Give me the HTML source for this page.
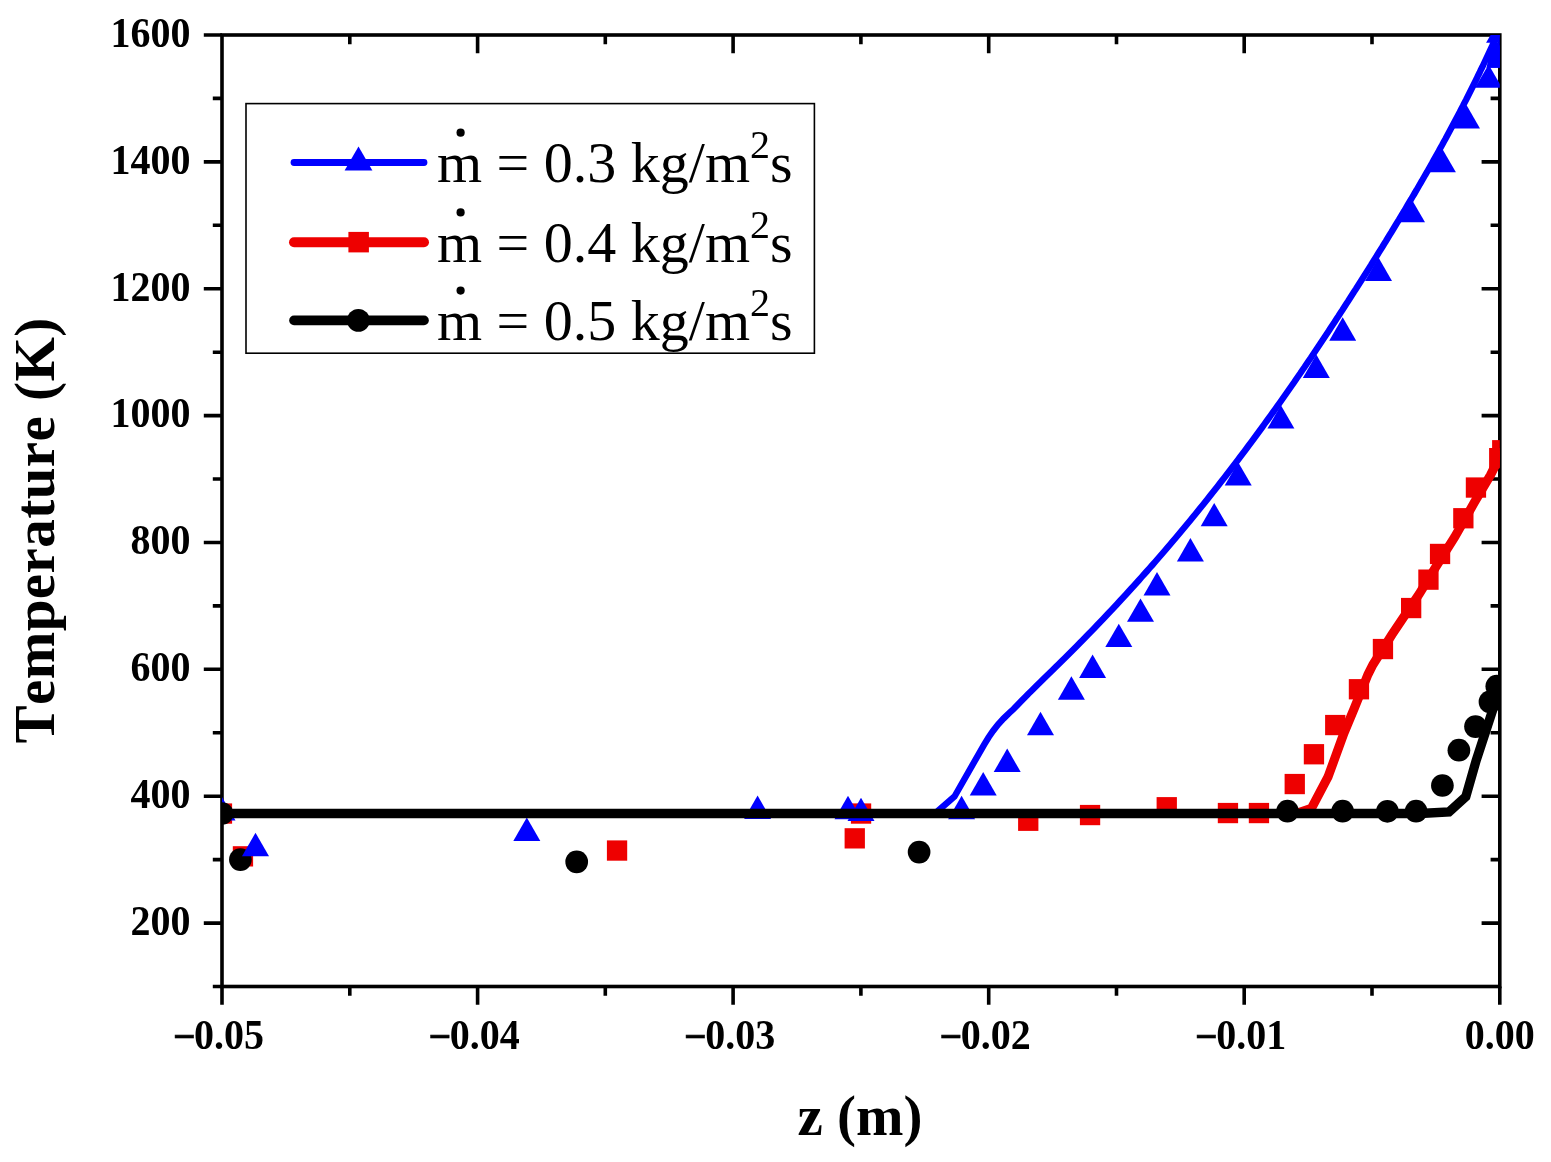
<!DOCTYPE html>
<html><head><meta charset="utf-8"><style>
html,body{margin:0;padding:0;background:#fff;}
svg{display:block;}
.tl{font-family:"Liberation Serif",serif;font-weight:bold;font-size:40px;}
.lg{font-family:"Liberation Serif",serif;font-size:58px;}
.ti{font-family:"Liberation Serif",serif;font-weight:bold;font-size:57px;}
</style></head><body>
<svg width="1551" height="1162" viewBox="0 0 1551 1162">
<rect width="1551" height="1162" fill="#fff"/>
<defs><clipPath id="pc"><rect x="222.0" y="35.0" width="1277.8" height="951.5"/></clipPath></defs>
<rect x="222.0" y="35.0" width="1277.8" height="951.5" fill="none" stroke="#000" stroke-width="3.6"/><path d="M212.8 986.5H222.0 M203.8 923.1H222.0 M1499.8 923.1H1481.6 M212.8 859.6H222.0 M1499.8 859.6H1490.6 M203.8 796.2H222.0 M1499.8 796.2H1481.6 M212.8 732.8H222.0 M1499.8 732.8H1490.6 M203.8 669.3H222.0 M1499.8 669.3H1481.6 M212.8 605.9H222.0 M1499.8 605.9H1490.6 M203.8 542.5H222.0 M1499.8 542.5H1481.6 M212.8 479.0H222.0 M1499.8 479.0H1490.6 M203.8 415.6H222.0 M1499.8 415.6H1481.6 M212.8 352.2H222.0 M1499.8 352.2H1490.6 M203.8 288.7H222.0 M1499.8 288.7H1481.6 M212.8 225.3H222.0 M1499.8 225.3H1490.6 M203.8 161.9H222.0 M1499.8 161.9H1481.6 M212.8 98.4H222.0 M1499.8 98.4H1490.6 M203.8 35.0H222.0 M222.0 986.5V1004.7 M349.8 986.5V995.7 M349.8 35.0V44.2 M477.6 986.5V1004.7 M477.6 35.0V53.2 M605.3 986.5V995.7 M605.3 35.0V44.2 M733.1 986.5V1004.7 M733.1 35.0V53.2 M860.9 986.5V995.7 M860.9 35.0V44.2 M988.7 986.5V1004.7 M988.7 35.0V53.2 M1116.5 986.5V995.7 M1116.5 35.0V44.2 M1244.2 986.5V1004.7 M1244.2 35.0V53.2 M1372.0 986.5V995.7 M1372.0 35.0V44.2 M1499.8 986.5V1004.7" stroke="#000" stroke-width="3.6" fill="none"/>
<g class="tl"><text transform="translate(190.5 934.9) scale(1 1.07)" text-anchor="end">200</text><text transform="translate(190.5 808.0) scale(1 1.07)" text-anchor="end">400</text><text transform="translate(190.5 681.1) scale(1 1.07)" text-anchor="end">600</text><text transform="translate(190.5 554.3) scale(1 1.07)" text-anchor="end">800</text><text transform="translate(190.5 427.4) scale(1 1.07)" text-anchor="end">1000</text><text transform="translate(190.5 300.5) scale(1 1.07)" text-anchor="end">1200</text><text transform="translate(190.5 173.7) scale(1 1.07)" text-anchor="end">1400</text><text transform="translate(190.5 46.8) scale(1 1.07)" text-anchor="end">1600</text><text transform="translate(218.5 1049) scale(1 1.07)" text-anchor="middle"><tspan dy="1.5" style="stroke:#000;stroke-width:0.5">−</tspan><tspan dy="-1.5" dx="-1.6">0.05</tspan></text><text transform="translate(474.1 1049) scale(1 1.07)" text-anchor="middle"><tspan dy="1.5" style="stroke:#000;stroke-width:0.5">−</tspan><tspan dy="-1.5" dx="-1.6">0.04</tspan></text><text transform="translate(729.6 1049) scale(1 1.07)" text-anchor="middle"><tspan dy="1.5" style="stroke:#000;stroke-width:0.5">−</tspan><tspan dy="-1.5" dx="-1.6">0.03</tspan></text><text transform="translate(985.2 1049) scale(1 1.07)" text-anchor="middle"><tspan dy="1.5" style="stroke:#000;stroke-width:0.5">−</tspan><tspan dy="-1.5" dx="-1.6">0.02</tspan></text><text transform="translate(1240.7 1049) scale(1 1.07)" text-anchor="middle"><tspan dy="1.5" style="stroke:#000;stroke-width:0.5">−</tspan><tspan dy="-1.5" dx="-1.6">0.01</tspan></text><text transform="translate(1499.8 1049) scale(1 1.07)" text-anchor="middle">0.00</text></g>
<g clip-path="url(#pc)">
<path d="M1270.0 813.5 L1296.0 813.5 L1311.4 808.4 L1328.0 777.0 L1336.0 755.0 L1344.0 733.0 L1354.0 709.0 L1368.0 674.4 L1373.0 664.5 L1392.0 634.5 L1419.0 594.3 L1436.0 566.6 L1454.6 537.2 L1474.3 502.6 L1490.5 475.1 L1502.0 452.0" fill="none" stroke="#ee0000" stroke-width="9.1" stroke-linejoin="miter" stroke-miterlimit="4" stroke-linecap="butt"/>
<rect x="232.8" y="846.2" width="20.3" height="20.3" fill="#ee0000"/>
<rect x="606.9" y="840.4" width="20.3" height="20.3" fill="#ee0000"/>
<rect x="844.6" y="828.2" width="20.3" height="20.3" fill="#ee0000"/>
<rect x="850.9" y="803.4" width="20.3" height="20.3" fill="#ee0000"/>
<rect x="1018.1" y="810.6" width="20.3" height="20.3" fill="#ee0000"/>
<rect x="1079.9" y="804.9" width="20.3" height="20.3" fill="#ee0000"/>
<rect x="1156.6" y="797.1" width="20.3" height="20.3" fill="#ee0000"/>
<rect x="1217.8" y="802.9" width="20.3" height="20.3" fill="#ee0000"/>
<rect x="1248.8" y="802.9" width="20.3" height="20.3" fill="#ee0000"/>
<rect x="1284.6" y="773.9" width="20.3" height="20.3" fill="#ee0000"/>
<rect x="1303.8" y="744.1" width="20.3" height="20.3" fill="#ee0000"/>
<rect x="1325.1" y="714.9" width="20.3" height="20.3" fill="#ee0000"/>
<rect x="1348.8" y="679.1" width="20.3" height="20.3" fill="#ee0000"/>
<rect x="1372.8" y="638.9" width="20.3" height="20.3" fill="#ee0000"/>
<rect x="1401.0" y="597.9" width="20.3" height="20.3" fill="#ee0000"/>
<rect x="1418.3" y="569.5" width="20.3" height="20.3" fill="#ee0000"/>
<rect x="1429.9" y="543.8" width="20.3" height="20.3" fill="#ee0000"/>
<rect x="1453.2" y="508.1" width="20.3" height="20.3" fill="#ee0000"/>
<rect x="1465.8" y="477.4" width="20.3" height="20.3" fill="#ee0000"/>
<rect x="1489.1" y="448.0" width="20.3" height="20.3" fill="#ee0000"/>
<rect x="1492.1" y="440.1" width="20.3" height="20.3" fill="#ee0000"/>
<rect x="211.8" y="803.4" width="20.3" height="20.3" fill="#ee0000"/>
<circle cx="240.4" cy="859.6" r="11.35" fill="#000000"/>
<circle cx="576.7" cy="861.9" r="11.35" fill="#000000"/>
<circle cx="919.1" cy="852.1" r="11.35" fill="#000000"/>
<circle cx="1287.5" cy="811.2" r="11.35" fill="#000000"/>
<circle cx="1342.6" cy="811.2" r="11.35" fill="#000000"/>
<circle cx="1387.4" cy="811.3" r="11.35" fill="#000000"/>
<circle cx="1416.1" cy="811.2" r="11.35" fill="#000000"/>
<circle cx="1442.4" cy="785.5" r="11.35" fill="#000000"/>
<circle cx="1458.9" cy="750.2" r="11.35" fill="#000000"/>
<circle cx="1475.5" cy="726.6" r="11.35" fill="#000000"/>
<circle cx="1490.0" cy="701.9" r="11.35" fill="#000000"/>
<circle cx="1496.8" cy="686.2" r="11.35" fill="#000000"/>
<path d="M900.0 813.5 L935.0 813.5 L954.5 796.5 L984.0 744.8 L988.5 737.5 L993.0 731.0 L998.0 724.5 L1003.5 718.6 L1009.5 712.8 L1013.6 709.0 L1016.5 706.0 L1019.4 703.0 L1022.3 700.0 L1025.3 697.0 L1028.2 694.0 L1031.3 691.0 L1034.3 688.0 L1037.3 685.0 L1040.4 682.0 L1043.4 679.0 L1046.5 676.0 L1049.6 673.0 L1052.7 670.0 L1055.7 667.0 L1058.8 664.0 L1061.8 661.0 L1064.9 658.0 L1067.9 655.0 L1070.9 652.0 L1073.9 649.0 L1076.9 646.0 L1079.8 643.0 L1082.8 640.0 L1085.7 637.0 L1088.6 634.0 L1091.6 631.0 L1094.5 628.0 L1097.3 625.0 L1100.2 622.0 L1103.1 619.0 L1105.9 616.0 L1108.7 613.0 L1111.6 610.0 L1114.4 607.0 L1117.2 604.0 L1119.9 601.0 L1122.7 598.0 L1125.5 595.0 L1128.2 592.0 L1130.9 589.0 L1133.7 586.0 L1136.4 583.0 L1139.1 580.0 L1141.7 577.0 L1144.4 574.0 L1147.1 571.0 L1149.7 568.0 L1152.4 565.0 L1155.0 562.0 L1157.6 559.0 L1160.2 556.0 L1162.8 553.0 L1165.4 550.0 L1167.9 547.0 L1170.5 544.0 L1173.0 541.0 L1175.6 538.0 L1178.1 535.0 L1180.6 532.0 L1183.1 529.0 L1185.6 526.0 L1188.1 523.0 L1190.6 520.0 L1193.0 517.0 L1195.5 514.0 L1197.9 511.0 L1200.3 508.0 L1202.8 505.0 L1205.2 502.0 L1207.6 499.0 L1209.9 496.0 L1212.3 493.0 L1214.7 490.0 L1217.1 487.0 L1219.4 484.0 L1221.7 481.0 L1224.1 478.0 L1226.4 475.0 L1228.7 472.0 L1231.0 469.0 L1233.3 466.0 L1235.6 463.0 L1237.9 460.0 L1240.1 457.0 L1242.4 454.0 L1244.7 451.0 L1246.9 448.0 L1249.1 445.0 L1251.4 442.0 L1253.6 439.0 L1255.8 436.0 L1258.0 433.0 L1260.2 430.0 L1262.4 427.0 L1264.5 424.0 L1266.7 421.0 L1268.9 418.0 L1271.0 415.0 L1273.2 412.0 L1275.3 409.0 L1277.5 406.0 L1279.6 403.0 L1281.7 400.0 L1283.8 397.0 L1285.9 394.0 L1288.0 391.0 L1290.1 388.0 L1292.2 385.0 L1294.3 382.0 L1296.3 379.0 L1298.4 376.0 L1300.5 373.0 L1302.5 370.0 L1304.6 367.0 L1306.6 364.0 L1308.6 361.0 L1310.7 358.0 L1312.7 355.0 L1314.7 352.0 L1316.7 349.0 L1318.7 346.0 L1320.7 343.0 L1322.7 340.0 L1324.7 337.0 L1326.7 334.0 L1328.7 331.0 L1330.6 328.0 L1332.6 325.0 L1334.6 322.0 L1336.5 319.0 L1338.5 316.0 L1340.4 313.0 L1342.4 310.0 L1344.3 307.0 L1346.2 304.0 L1348.2 301.0 L1350.1 298.0 L1352.0 295.0 L1353.9 292.0 L1355.9 289.0 L1357.8 286.0 L1359.7 283.0 L1361.6 280.0 L1363.5 277.0 L1365.4 274.0 L1367.3 271.0 L1369.2 268.0 L1371.1 265.0 L1372.9 262.0 L1374.8 259.0 L1376.7 256.0 L1378.5 253.0 L1380.4 250.0 L1382.3 247.0 L1384.1 244.0 L1386.0 241.0 L1387.8 238.0 L1389.6 235.0 L1391.5 232.0 L1393.3 229.0 L1395.1 226.0 L1396.9 223.0 L1398.8 220.0 L1400.6 217.0 L1402.4 214.0 L1404.2 211.0 L1405.9 208.0 L1407.7 205.0 L1409.5 202.0 L1411.3 199.0 L1413.0 196.0 L1414.8 193.0 L1416.6 190.0 L1418.3 187.0 L1420.0 184.0 L1421.8 181.0 L1423.5 178.0 L1425.2 175.0 L1427.0 172.0 L1428.7 169.0 L1430.4 166.0 L1432.1 163.0 L1433.7 160.0 L1435.4 157.0 L1437.1 154.0 L1438.8 151.0 L1440.4 148.0 L1442.1 145.0 L1443.7 142.0 L1445.4 139.0 L1447.0 136.0 L1448.6 133.0 L1450.2 130.0 L1451.8 127.0 L1453.4 124.0 L1455.0 121.0 L1456.6 118.0 L1458.2 115.0 L1459.8 112.0 L1461.3 109.0 L1462.9 106.0 L1464.4 103.0 L1466.0 100.0 L1467.5 97.0 L1469.0 94.0 L1470.5 91.0 L1472.0 88.0 L1473.5 85.0 L1475.0 82.0 L1476.5 79.0 L1477.9 76.0 L1479.4 73.0 L1480.8 70.0 L1482.3 67.0 L1483.7 64.0 L1485.1 61.0 L1486.5 58.0 L1487.9 55.0 L1489.3 52.0 L1490.7 49.0 L1492.1 46.0 L1493.4 43.0 L1494.8 40.0 L1496.1 37.0 L1497.4 34.0 L1498.8 31.0 L1500.1 28.0 L1501.4 25.0" fill="none" stroke="#0000ff" stroke-width="6.4" stroke-linejoin="miter" stroke-miterlimit="4" stroke-linecap="butt"/>
<path d="M255.5 832.8L269.0 856.2L242.0 856.2Z" fill="#0000ff"/>
<path d="M526.8 817.6L540.3 841.0L513.3 841.0Z" fill="#0000ff"/>
<path d="M757.6 795.6L771.1 819.0L744.1 819.0Z" fill="#0000ff"/>
<path d="M848.0 795.8L861.5 819.2L834.5 819.2Z" fill="#0000ff"/>
<path d="M861.0 797.7L874.5 821.1L847.5 821.1Z" fill="#0000ff"/>
<path d="M961.6 795.8L975.1 819.2L948.1 819.2Z" fill="#0000ff"/>
<path d="M983.2 772.1L996.7 795.5L969.7 795.5Z" fill="#0000ff"/>
<path d="M1007.2 748.6L1020.7 772.0L993.7 772.0Z" fill="#0000ff"/>
<path d="M1040.5 711.8L1054.0 735.2L1027.0 735.2Z" fill="#0000ff"/>
<path d="M1071.4 676.3L1084.9 699.7L1057.9 699.7Z" fill="#0000ff"/>
<path d="M1092.6 654.6L1106.1 678.0L1079.1 678.0Z" fill="#0000ff"/>
<path d="M1118.8 623.7L1132.3 647.1L1105.3 647.1Z" fill="#0000ff"/>
<path d="M1140.5 598.4L1154.0 621.8L1127.0 621.8Z" fill="#0000ff"/>
<path d="M1157.0 572.0L1170.5 595.4L1143.5 595.4Z" fill="#0000ff"/>
<path d="M1190.4 538.1L1203.9 561.5L1176.9 561.5Z" fill="#0000ff"/>
<path d="M1214.2 502.9L1227.7 526.3L1200.7 526.3Z" fill="#0000ff"/>
<path d="M1238.2 462.2L1251.7 485.6L1224.7 485.6Z" fill="#0000ff"/>
<path d="M1280.9 405.2L1294.4 428.6L1267.4 428.6Z" fill="#0000ff"/>
<path d="M1316.3 354.5L1329.8 377.9L1302.8 377.9Z" fill="#0000ff"/>
<path d="M1342.7 317.3L1356.2 340.7L1329.2 340.7Z" fill="#0000ff"/>
<path d="M1378.5 257.6L1392.0 281.0L1365.0 281.0Z" fill="#0000ff"/>
<path d="M1411.5 198.9L1425.0 222.3L1398.0 222.3Z" fill="#0000ff"/>
<path d="M1442.4 148.9L1455.9 172.3L1428.9 172.3Z" fill="#0000ff"/>
<path d="M1466.5 105.0L1480.0 128.4L1453.0 128.4Z" fill="#0000ff"/>
<path d="M1488.6 64.4L1502.1 87.8L1475.1 87.8Z" fill="#0000ff"/>
<path d="M1500.0 44.4L1513.5 67.8L1486.5 67.8Z" fill="#0000ff"/>
<path d="M1499.6 19.3L1513.1 42.7L1486.1 42.7Z" fill="#0000ff"/>
<path d="M1491.5 42.3L1501 42.3L1501 67.8L1486.5 67.8Z" fill="#0000ff"/>
<path d="M222.0 797.0L235.5 820.4L208.5 820.4Z" fill="#0000ff"/>
<circle cx="222.0" cy="813.5" r="11.35" fill="#000000"/>
<path d="M222.0 813.5 L1420.0 813.5 L1449.0 812.0 L1465.8 796.8 L1476.3 760.0 L1492.6 710.2 L1500.0 689.0" fill="none" stroke="#000000" stroke-width="9.3" stroke-linejoin="miter" stroke-miterlimit="4" stroke-linecap="butt"/>
</g>
<g><rect x="246" y="103.6" width="568.4" height="249.6" fill="none" stroke="#000" stroke-width="1.6"/>
<line x1="294" y1="162.5" x2="424" y2="162.5" stroke="#0000ff" stroke-width="6.8" stroke-linecap="round"/>
<path d="M358.5 146.4L372.4 170.5L344.6 170.5Z" fill="#0000ff"/>
<text x="437" y="182.3" class="lg">m = 0.3 kg/m<tspan dy="-24.5" font-size="40">2</tspan><tspan dy="24.5">s</tspan></text>
<circle cx="460.6" cy="132.7" r="4.1" fill="#000"/>
<line x1="294" y1="242.2" x2="424" y2="242.2" stroke="#ee0000" stroke-width="10" stroke-linecap="round"/>
<rect x="348.4" y="231.9" width="20.5" height="20.5" fill="#ee0000"/>
<text x="437" y="262.0" class="lg">m = 0.4 kg/m<tspan dy="-24.5" font-size="40">2</tspan><tspan dy="24.5">s</tspan></text>
<circle cx="460.6" cy="212.4" r="4.1" fill="#000"/>
<line x1="294" y1="320.4" x2="424" y2="320.4" stroke="#000000" stroke-width="9.7" stroke-linecap="round"/>
<circle cx="358.4" cy="320.4" r="11.40" fill="#000000"/>
<text x="437" y="340.2" class="lg">m = 0.5 kg/m<tspan dy="-24.5" font-size="40">2</tspan><tspan dy="24.5">s</tspan></text>
<circle cx="460.6" cy="290.6" r="4.1" fill="#000"/></g>
<text class="ti" x="860" y="1135" text-anchor="middle">z (m)</text>
<text class="ti" transform="translate(53.7 530.4) rotate(-90)" text-anchor="middle" style="font-size:57px;font-kerning:none;letter-spacing:0.45px">Temperature (K)</text>
</svg>
</body></html>
